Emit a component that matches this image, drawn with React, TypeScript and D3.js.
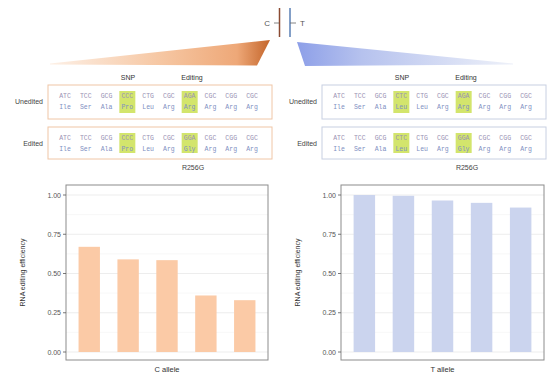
import React from 'react';
import * as d3 from 'd3';

// bar values
const categories = ['s1', 's2', 's3', 's4', 's5'];
const cAllele = [0.67, 0.59, 0.585, 0.36, 0.33];
const tAllele = [1.0, 0.995, 0.965, 0.95, 0.92];
const yTicks = [0, 0.25, 0.5, 0.75, 1];

// sequence snippets
const codonsC = ['ATC', 'TCC', 'GCG', 'CCC', 'CTG', 'CGC', 'AGA', 'CGC', 'CGG', 'CGC'];
const codonsCEdited = ['ATC', 'TCC', 'GCG', 'CCC', 'CTG', 'CGC', 'GGA', 'CGC', 'CGG', 'CGC'];
const codonsT = ['ATC', 'TCC', 'GCG', 'CTC', 'CTG', 'CGC', 'AGA', 'CGC', 'CGG', 'CGC'];
const codonsTEdited = ['ATC', 'TCC', 'GCG', 'CTC', 'CTG', 'CGC', 'GGA', 'CGC', 'CGG', 'CGC'];
const aminoC = ['Ile', 'Ser', 'Ala', 'Pro', 'Leu', 'Arg', 'Arg', 'Arg', 'Arg', 'Arg'];
const aminoCEdited = ['Ile', 'Ser', 'Ala', 'Pro', 'Leu', 'Arg', 'Gly', 'Arg', 'Arg', 'Arg'];
const aminoT = ['Ile', 'Ser', 'Ala', 'Leu', 'Leu', 'Arg', 'Arg', 'Arg', 'Arg', 'Arg'];
const aminoTEdited = ['Ile', 'Ser', 'Ala', 'Leu', 'Leu', 'Arg', 'Gly', 'Arg', 'Arg', 'Arg'];
const highlightCols = [3, 6];

const sans = 'Liberation Sans, Arial, sans-serif';
const mono = 'Liberation Mono, DejaVu Sans Mono, monospace';

const SeqBox = ({ x, y, w, h, stroke, codons, amino }) => {
  const col = d3.scaleLinear().domain([0, 9]).range([x + 17, x + 204]);
  return (
    <g>
      <rect x={x} y={y} width={w} height={h} fill="#fff" stroke={stroke} strokeWidth={1} />
      {highlightCols.map(c => (
        <rect key={c} x={col(c) - 8} y={y + 6} width={16} height={h - 12} fill="#d3e56c" />
      ))}
      {codons.map((c, i) => (
        <text key={'c' + i} x={col(i)} y={y + 13} textAnchor="middle" fontFamily={mono} fontSize={6.5} fill="#9a92b4">{c}</text>
      ))}
      {amino.map((a, i) => (
        <text key={'a' + i} x={col(i)} y={y + 24} textAnchor="middle" fontFamily={mono} fontSize={6.5} fill="#7f90c2">{a}</text>
      ))}
    </g>
  );
};

const SeqPanel = ({ x, stroke, top, bottom }) => (
  <g>
    <text x={x + 80} y={80} textAnchor="middle" fontFamily={sans} fontSize={7} fill="#333">SNP</text>
    <text x={x + 144} y={80} textAnchor="middle" fontFamily={sans} fontSize={7} fill="#333">Editing</text>
    <text x={x - 5} y={104} textAnchor="end" fontFamily={sans} fontSize={7} fill="#444">Unedited</text>
    <text x={x - 5} y={146} textAnchor="end" fontFamily={sans} fontSize={7} fill="#444">Edited</text>
    <SeqBox x={x} y={85} w={224} h={34} stroke={stroke} codons={top[0]} amino={top[1]} />
    <SeqBox x={x} y={127} w={224} h={32} stroke={stroke} codons={bottom[0]} amino={bottom[1]} />
    <text x={x + 145} y={170} textAnchor="middle" fontFamily={sans} fontSize={7} fill="#444">R256G</text>
  </g>
);

const BarPanel = ({ left, right, values, fill, label }) => {
  const top = 185, bottom = 360;
  const y = d3.scaleLinear().domain([0, 1]).range([352, 195]);
  const x = d3.scaleBand().domain(categories).range([left + 4, right - 4]).paddingInner(0.45).paddingOuter(0.22);
  const minor = [0.125, 0.375, 0.625, 0.875];
  return (
    <g>
      <rect x={left} y={top} width={right - left} height={bottom - top} fill="#fff" />
      {minor.map(t => (
        <line key={'m' + t} x1={left} x2={right} y1={y(t)} y2={y(t)} stroke="#f4f4f4" strokeWidth={0.6} />
      ))}
      {yTicks.map(t => (
        <line key={'g' + t} x1={left} x2={right} y1={y(t)} y2={y(t)} stroke="#e8e8e8" strokeWidth={0.8} />
      ))}
      {values.map((v, i) => (
        <rect key={i} x={x(categories[i])} y={y(v)} width={x.bandwidth()} height={y(0) - y(v)} fill={fill} />
      ))}
      <rect x={left} y={top} width={right - left} height={bottom - top} fill="none" stroke="#8c8c8c" strokeWidth={1} />
      {yTicks.map(t => (
        <g key={'t' + t}>
          <line x1={left - 3} x2={left} y1={y(t)} y2={y(t)} stroke="#555" strokeWidth={0.8} />
          <text x={left - 5} y={y(t) + 2.5} textAnchor="end" fontFamily={sans} fontSize={7} fill="#555">{d3.format('.2f')(t)}</text>
        </g>
      ))}
      <text transform={`translate(${left - 41},${(top + bottom) / 2}) rotate(-90)`} textAnchor="middle" fontFamily={sans} fontSize={7} fill="#333">RNA editing efficiency</text>
      <text x={(left + right) / 2} y={372} textAnchor="middle" fontFamily={sans} fontSize={7.5} fill="#333">{label}</text>
    </g>
  );
};

export default function App() {
  return (
    <svg width={551} height={376} style={{ position: 'absolute', left: 0, top: 0, background: '#fff' }}>
      <defs>
        <linearGradient id="orangeGrad" x1="50" x2="270" y1="0" y2="0" gradientUnits="userSpaceOnUse">
          <stop offset="0" stopColor="#fdf0e6" />
          <stop offset="0.5" stopColor="#f6c7a3" />
          <stop offset="0.85" stopColor="#eea878" />
          <stop offset="1" stopColor="#c4652a" />
        </linearGradient>
        <linearGradient id="blueGrad" x1="297" x2="513" y1="0" y2="0" gradientUnits="userSpaceOnUse">
          <stop offset="0" stopColor="#8d9fe8" />
          <stop offset="0.3" stopColor="#b6c2ee" />
          <stop offset="1" stopColor="#eef1f9" />
        </linearGradient>
      </defs>

      {/* allele marker */}
      <line x1={279.5} x2={279.5} y1={8} y2={37} stroke="#8a4a32" strokeWidth={1.5} />
      <line x1={290} x2={290} y1={8} y2={37} stroke="#5a7fb5" strokeWidth={1.5} />
      <line x1={274} x2={279} y1={23} y2={23} stroke="#666" strokeWidth={0.8} />
      <line x1={290} x2={296} y1={23} y2={23} stroke="#666" strokeWidth={0.8} />
      <text x={270} y={26} textAnchor="end" fontFamily={sans} fontSize={8} fill="#555">C</text>
      <text x={300} y={26} fontFamily={sans} fontSize={8} fill="#555">T</text>

      <polygon points="50,63.5 270,40 257,65.5 50,64.5" fill="url(#orangeGrad)" />
      <polygon points="297,42 513,63.5 513,64.5 305,66" fill="url(#blueGrad)" />

      <SeqPanel x={48} stroke="#f0c6a6" top={[codonsC, aminoC]} bottom={[codonsCEdited, aminoCEdited]} />
      <SeqPanel x={322} stroke="#c8d0e2" top={[codonsT, aminoT]} bottom={[codonsTEdited, aminoTEdited]} />

      <BarPanel left={66} right={268} values={cAllele} fill="#fbcaa6" label="C allele" />
      <BarPanel left={341} right={544} values={tAllele} fill="#cbd4ee" label="T allele" />
    </svg>
  );
}
